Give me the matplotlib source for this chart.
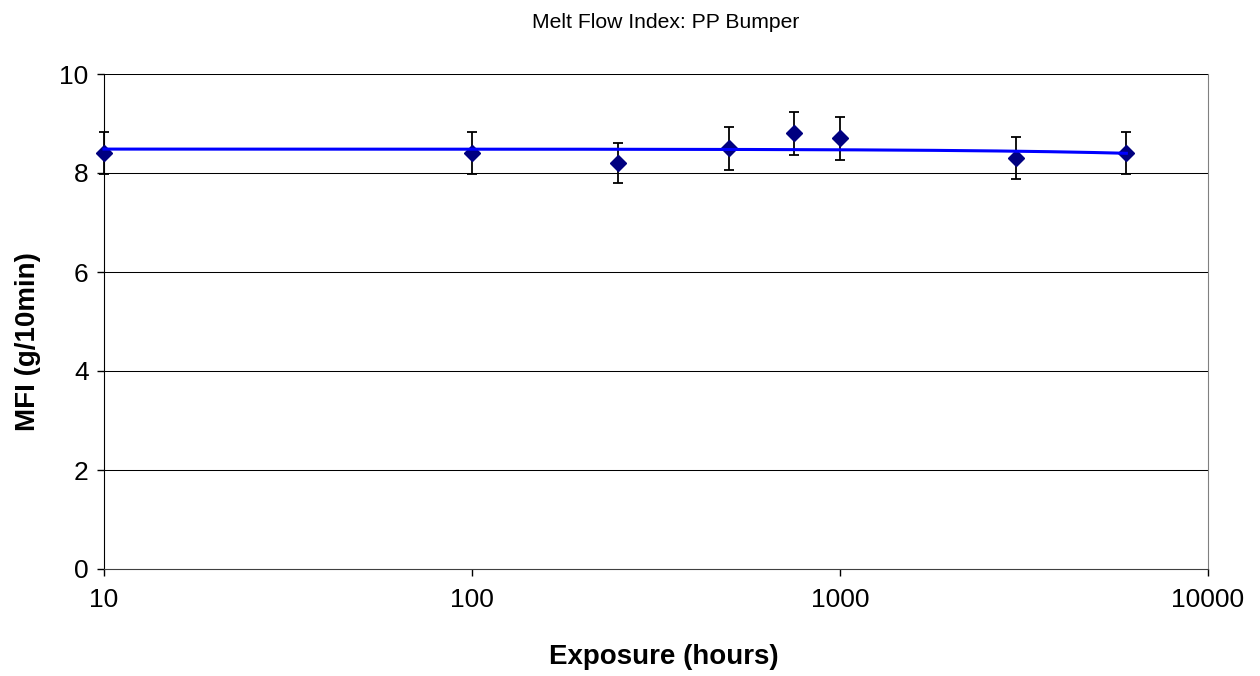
import numpy as np
import matplotlib
matplotlib.use('Agg')
import matplotlib.pyplot as plt

plt.rcParams['font.family'] = ['Liberation Sans', 'DejaVu Sans']

# data
hours = [10, 100, 250, 500, 750, 1000, 3000, 6000]
mfi = [8.4, 8.4, 8.2, 8.5, 8.8, 8.7, 8.3, 8.4]
mfi_err = [0.42, 0.42, 0.41, 0.43, 0.44, 0.44, 0.42, 0.42]
yticks = [0, 2, 4, 6, 8, 10]
xticks = [10, 100, 1000, 10000]

fig = plt.figure(figsize=(12.6, 6.76), dpi=100)
ax = fig.add_axes([104/1260, 1 - 569/676, (1208 - 104)/1260, (569 - 74)/676])

# horizontal gridlines
for v in yticks[1:]:
    ax.axhline(v, color='black', lw=0.75, zorder=1)

eb = ax.errorbar(hours, mfi, yerr=mfi_err, fmt='none', ecolor='black',
                 elinewidth=1.3, capsize=3.6, capthick=1.3, zorder=2)
for art in eb.lines[1] + eb.lines[2]:
    art.set_clip_on(False)
ax.plot(hours, mfi, linestyle='none', marker='D', ms=8.5,
        color='#000080', zorder=3, clip_on=False)

# linear trendline (Excel style, linear in x)
coef = np.polyfit(hours, mfi, 1)
xx = np.linspace(min(hours), max(hours), 2000)
ax.plot(xx, np.polyval(coef, xx), color='#0000FF', lw=2.2, zorder=4,
        clip_on=False)

ax.set_xscale('log')
ax.set_xlim(10, 10000)
ax.set_ylim(0, 10)
ax.set_xticks(xticks)
ax.set_xticklabels([str(t) for t in xticks])
ax.xaxis.set_minor_locator(matplotlib.ticker.NullLocator())
ax.set_yticks(yticks)
ax.tick_params(axis='both', direction='out', length=5, width=1,
               labelsize=19, color='black', pad=6)
ax.tick_params(axis='x', pad=9)

ax.spines['left'].set_color('black')
ax.spines['bottom'].set_color('#404040')
ax.spines['right'].set_color('#808080')
ax.spines['top'].set_visible(False)

fig.text(666/1260, 1 - 22/676, 'Melt Flow Index: PP Bumper',
         ha='center', va='center', fontsize=15.2)
fig.text(664/1260, 1 - 657/676, 'Exposure (hours)', ha='center',
         va='center', fontsize=20, fontweight='bold')
fig.text(28/1260, 1 - 342/676, 'MFI (g/10min)', ha='center', va='center',
         rotation=90, fontsize=20, fontweight='bold')

fig.savefig('out.png', dpi=100)
